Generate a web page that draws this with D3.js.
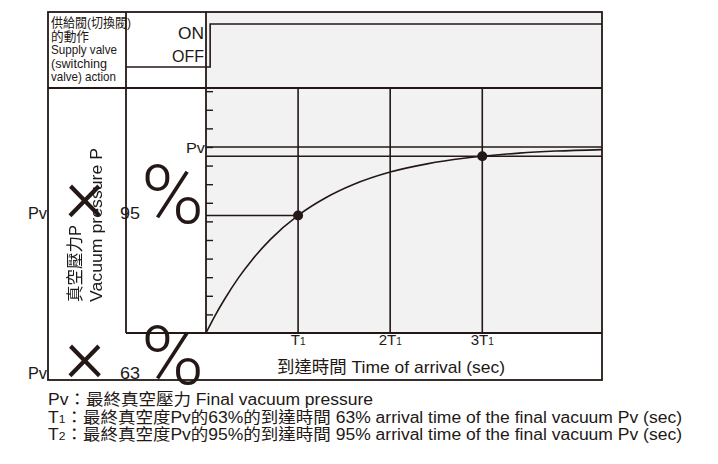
<!DOCTYPE html>
<html><head><meta charset="utf-8">
<script src="https://cdn.jsdelivr.net/npm/d3@7/dist/d3.min.js"></script>
<style>
html,body{margin:0;padding:0;background:#fff;}
svg{display:block;}
</style></head>
<body>
<svg id="chart" width="718" height="464"></svg>
<script>
// ---------- data ----------
const curveT = [0, 0.1, 0.2, 0.35, 0.5, 0.7, 1.0, 1.3, 1.6, 2.0, 2.4, 2.8, 3.0, 3.4, 3.8, 4.3];
const curveP = [0, 0.095, 0.18, 0.295, 0.393, 0.503, 0.632, 0.727, 0.798, 0.865, 0.909, 0.939, 0.95, 0.967, 0.978, 0.986];
const dotT = [1, 3];
const dotP = [0.632, 0.95];
const gridT = [1, 2, 3];
const gridLabels = ["T", "2T", "3T"];
const yTicks = [0.1, 0.2, 0.3, 0.4, 0.5, 0.6, 0.7, 0.8, 0.9, 1.0, 1.1, 1.2, 1.3];
const levelPv = 1.0;
const level95 = 0.95;
const level63 = 0.632;
const valveT = [-0.87, 0.045, 0.045, 4.3];
const valveState = [0, 0, 1, 1];
const valveLines = ["供給閥(切換閥)", "的動作", "Supply valve", "(switching", "valve) action"];
const xTitle = "到達時間 Time of arrival (sec)";
const yTitleZh = "真空壓力P";
const yTitleEn = "Vacuum pressure P";
const notes = [
  [["Pv：最終真空壓力 Final vacuum pressure", 0]],
  [["T", 0], ["1", 1], ["：最終真空度Pv的63%的到達時間 63% arrival time of the final vacuum Pv (sec)", 0]],
  [["T", 0], ["2", 1], ["：最終真空度Pv的95%的到達時間 95% arrival time of the final vacuum Pv (sec)", 0]]
];

// ---------- layout ----------
const INK = "#231815";
const FONT = "'Liberation Sans', 'Noto Sans CJK TC', sans-serif";
const BIG = "Roboto, 'Liberation Sans', sans-serif";
const L = 48, R = 602, T = 12, B = 380;
const C1 = 126, C2 = 206, R1 = 88, R2 = 333;

const svg = d3.select("#chart");
svg.append("defs").append("filter").attr("id", "gray")
  .append("feColorMatrix").attr("type", "saturate").attr("values", 0);

const x = d3.scaleLinear().domain([0, 4.3]).range([C2, R]);
const y = d3.scaleLinear().domain([0, 1.317]).range([R2, R1]);
const yValve = d3.scaleLinear().domain([0, 1]).range([67, 24]);

// backgrounds
svg.append("rect").attr("x", C2).attr("y", T).attr("width", R - C2).attr("height", R2 - T).attr("fill", "#f2f2f2");

function txt(s, x0, y0, size, opts = {}) {
  const t = svg.append("text").attr("x", x0).attr("y", y0)
    .attr("font-family", opts.family || FONT).attr("font-size", size)
    .attr("font-weight", opts.weight || 400)
    .attr("fill", INK).attr("text-anchor", opts.anchor || "start");
  if (opts.rotate) t.attr("transform", `rotate(${opts.rotate},${x0},${y0})`).attr("filter", "url(#gray)");
  t.text(s);
  if (opts.len) t.attr("textLength", opts.len).attr("lengthAdjust", "spacingAndGlyphs");
  return t;
}

// y ticks
const yAxis = d3.axisRight(y).tickValues(yTicks).tickSize(7).tickFormat("");
const ga = svg.append("g").attr("transform", `translate(${C2},0)`).call(yAxis);
ga.select(".domain").remove();
ga.selectAll("line").attr("stroke", INK).attr("stroke-width", 1.4);

// vertical grid
svg.append("g").selectAll("line").data(gridT).join("line")
  .attr("x1", d => x(d)).attr("x2", d => x(d)).attr("y1", R1).attr("y2", R2)
  .attr("stroke", INK).attr("stroke-width", 1.6);

// level lines
svg.append("line").attr("x1", C2).attr("x2", R).attr("y1", y(levelPv)).attr("y2", y(levelPv)).attr("stroke", INK).attr("stroke-width", 1.6);
svg.append("line").attr("x1", C2).attr("x2", R).attr("y1", y(level95)).attr("y2", y(level95)).attr("stroke", INK).attr("stroke-width", 1.6);
svg.append("line").attr("x1", C2).attr("x2", x(1)).attr("y1", y(level63)).attr("y2", y(level63)).attr("stroke", INK).attr("stroke-width", 1.6);

// curve
const curveData = curveT.map((t, i) => [t, curveP[i]]);
svg.append("path").datum(curveData)
  .attr("d", d3.line().x(d => x(d[0])).y(d => y(d[1])).curve(d3.curveMonotoneX))
  .attr("fill", "none").attr("stroke", INK).attr("stroke-width", 1.6);

// dots
svg.append("g").selectAll("circle").data(dotT.map((t, i) => [t, dotP[i]])).join("circle")
  .attr("cx", d => x(d[0])).attr("cy", d => y(d[1])).attr("r", 5).attr("fill", INK);

// valve signal
const valveData = valveT.map((t, i) => [t, valveState[i]]);
svg.append("path").datum(valveData)
  .attr("d", d3.line().x(d => x(d[0])).y(d => yValve(d[1])))
  .attr("fill", "none").attr("stroke", INK).attr("stroke-width", 1.6);

// frame
const frame = svg.append("g").attr("stroke", INK).attr("stroke-width", 1.8).attr("fill", "none");
frame.append("rect").attr("x", L).attr("y", T).attr("width", R - L).attr("height", B - T);
frame.append("line").attr("x1", C1).attr("x2", C1).attr("y1", T).attr("y2", R2);
frame.append("line").attr("x1", C2).attr("x2", C2).attr("y1", T).attr("y2", R2);
frame.append("line").attr("x1", L).attr("x2", R).attr("y1", R1).attr("y2", R1);
frame.append("line").attr("x1", C1).attr("x2", R).attr("y1", R2).attr("y2", R2);

// valve texts
const vBase = [27, 40.5, 54, 67.5, 81];
const vLen = [80, 38, 66, 56, 65];
valveLines.forEach((s, i) => txt(s, 51, vBase[i], 13, { len: vLen[i] }));
txt("ON", 204, 38.5, 16.5, { anchor: "end", len: 26 });
txt("OFF", 204, 61.5, 16.5, { anchor: "end", len: 32 });

// y-axis top label
txt("Pv", 205, 153, 15, { anchor: "end", len: 19 });

// vertical titles
txt(yTitleZh, 81, 302, 16.5, { rotate: -90 });
txt(yTitleEn, 102, 302, 17, { rotate: -90, len: 154 });

// broken level labels (Pv × 95 %, Pv × 63 %)
function levelLabel(num, base, crossY, pctBase) {
  txt("Pv", 28, base, 16, { len: 19 });
  txt("×", 85, crossY, 76, { anchor: "middle", weight: 300, family: BIG });
  txt(num, 120, base, 16, { len: 20 });
  txt("%", 141, pctBase, 82, { len: 63, weight: 300, family: BIG });
}
levelLabel("95", 219, 221, 223);
levelLabel("63", 379, 381, 384);

// x labels
gridT.forEach((t, i) => {
  const tt = svg.append("text").attr("x", x(t)).attr("y", 345)
    .attr("font-family", FONT).attr("font-size", 15)
    .attr("fill", INK).attr("text-anchor", "middle");
  tt.append("tspan").text(gridLabels[i]);
  tt.append("tspan").attr("font-size", 10).text("1");
});
txt(xTitle, 391, 373, 17, { anchor: "middle", len: 228 });

// notes
const nBase = [405, 422.5, 440];
const nLen = [325, 634, 634];
notes.forEach((parts, i) => {
  const t = svg.append("text").attr("x", 48).attr("y", nBase[i])
    .attr("font-family", FONT).attr("font-size", 16).attr("fill", INK);
  parts.forEach(p => t.append("tspan").attr("font-size", p[1] ? 11 : 16).text(p[0]));
  t.attr("textLength", nLen[i]).attr("lengthAdjust", "spacingAndGlyphs");
});
</script>
</body></html>
